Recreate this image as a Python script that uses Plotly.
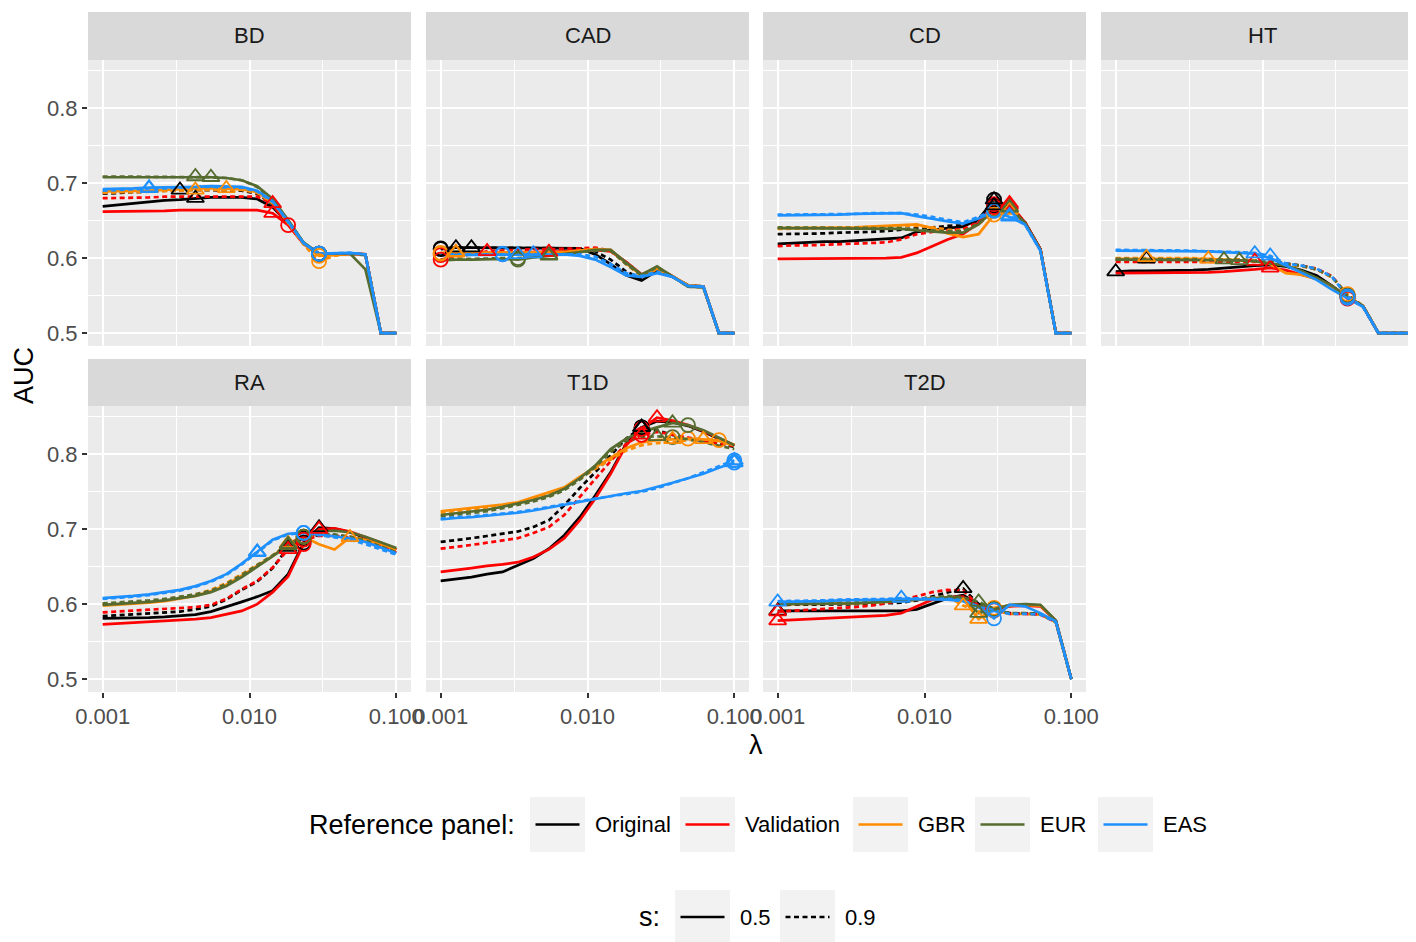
import plotly.graph_objects as go

W, H = 1416, 942

# ---------------- data ----------------
LAMBDA = [0.001, 0.00127, 0.00162, 0.00207, 0.00264, 0.00336, 0.00428, 0.00546,
          0.00695, 0.00886, 0.01129, 0.01438, 0.01833, 0.02336, 0.02976, 0.03793,
          0.04833, 0.06158, 0.07848, 0.1]
X_TICKS = [0.001, 0.01, 0.1]
X_TICK_LABELS = ["0.001", "0.010", "0.100"]
X_MINOR = [0.00316, 0.0316]
Y_TICKS = [0.5, 0.6, 0.7, 0.8]
Y_TICK_LABELS = ["0.5", "0.6", "0.7", "0.8"]
Y_MINOR = [0.55, 0.65, 0.75, 0.85]

DISEASES = ["BD", "CAD", "CD", "HT", "RA", "T1D", "T2D"]
REF_PANELS = ["Original", "Validation", "GBR", "EUR", "EAS"]
REF_COLORS = ["#000000", "#FF0000", "#FF8C00", "#556B2F", "#1E90FF"]
S_LEVELS = ["0.5", "0.9"]

# series order: ORIG_05, ORIG_09, VAL_05, VAL_09, GBR_05, GBR_09, EUR_05, EUR_09, EAS_05, EAS_09
BD_ORIG_05 = [0.669, 0.671, 0.673, 0.675, 0.677, 0.678, 0.680, 0.681, 0.681, 0.681, 0.679, 0.668, 0.646, 0.620, 0.606, 0.605, 0.606, 0.605, 0.500, 0.500]
BD_ORIG_09 = [0.686, 0.687, 0.688, 0.689, 0.690, 0.691, 0.691, 0.691, 0.691, 0.690, 0.686, 0.672, 0.647, 0.620, 0.606, 0.605, 0.606, 0.605, 0.500, 0.500]
BD_VAL_05 = [0.662, 0.662, 0.662, 0.663, 0.663, 0.664, 0.664, 0.665, 0.665, 0.665, 0.664, 0.660, 0.644, 0.619, 0.605, 0.605, 0.606, 0.605, 0.500, 0.500]
BD_VAL_09 = [0.680, 0.680, 0.681, 0.681, 0.682, 0.682, 0.683, 0.683, 0.683, 0.683, 0.682, 0.673, 0.646, 0.619, 0.606, 0.605, 0.606, 0.605, 0.500, 0.500]
BD_GBR_05 = [0.689, 0.689, 0.690, 0.690, 0.691, 0.692, 0.693, 0.693, 0.693, 0.692, 0.688, 0.674, 0.648, 0.619, 0.603, 0.604, 0.606, 0.605, 0.500, 0.500]
BD_GBR_09 = [0.687, 0.688, 0.688, 0.689, 0.690, 0.690, 0.691, 0.691, 0.691, 0.691, 0.687, 0.673, 0.647, 0.618, 0.596, 0.603, 0.606, 0.605, 0.500, 0.500]
BD_EUR_05 = [0.708, 0.708, 0.708, 0.709, 0.709, 0.709, 0.709, 0.708, 0.707, 0.704, 0.696, 0.679, 0.651, 0.621, 0.606, 0.606, 0.606, 0.585, 0.500, 0.500]
BD_EUR_09 = [0.709, 0.709, 0.709, 0.709, 0.709, 0.709, 0.709, 0.708, 0.707, 0.704, 0.695, 0.678, 0.650, 0.620, 0.606, 0.606, 0.606, 0.604, 0.500, 0.500]
BD_EAS_05 = [0.692, 0.692, 0.693, 0.694, 0.694, 0.695, 0.695, 0.696, 0.696, 0.695, 0.690, 0.676, 0.649, 0.620, 0.606, 0.606, 0.607, 0.605, 0.500, 0.500]
BD_EAS_09 = [0.690, 0.691, 0.692, 0.693, 0.693, 0.694, 0.695, 0.695, 0.695, 0.694, 0.689, 0.675, 0.648, 0.620, 0.606, 0.606, 0.607, 0.605, 0.500, 0.500]
BD_TRI = [6, 5, 11, 11, 8, 6, 6, 7, 3, 3]
BD_CIRC = [14, 14, 12, 14, 14, 14, 14, 14, 14, 14]

CAD_ORIG_05 = [0.613, 0.614, 0.614, 0.614, 0.614, 0.614, 0.614, 0.614, 0.614, 0.613, 0.605, 0.592, 0.577, 0.570, 0.583, 0.575, 0.564, 0.562, 0.500, 0.500]
CAD_ORIG_09 = [0.612, 0.614, 0.614, 0.614, 0.614, 0.614, 0.614, 0.614, 0.614, 0.613, 0.609, 0.598, 0.582, 0.573, 0.584, 0.575, 0.564, 0.562, 0.500, 0.500]
CAD_VAL_05 = [0.604, 0.605, 0.606, 0.607, 0.607, 0.608, 0.608, 0.608, 0.609, 0.610, 0.611, 0.609, 0.595, 0.578, 0.587, 0.576, 0.563, 0.562, 0.500, 0.500]
CAD_VAL_09 = [0.598, 0.602, 0.605, 0.609, 0.610, 0.611, 0.612, 0.612, 0.612, 0.613, 0.614, 0.610, 0.594, 0.578, 0.587, 0.576, 0.563, 0.562, 0.500, 0.500]
CAD_GBR_05 = [0.607, 0.608, 0.607, 0.607, 0.607, 0.607, 0.607, 0.607, 0.608, 0.610, 0.612, 0.611, 0.593, 0.577, 0.586, 0.576, 0.564, 0.562, 0.500, 0.500]
CAD_GBR_09 = [0.606, 0.607, 0.607, 0.607, 0.607, 0.607, 0.607, 0.607, 0.608, 0.610, 0.612, 0.610, 0.592, 0.576, 0.585, 0.575, 0.564, 0.562, 0.500, 0.500]
CAD_EUR_05 = [0.597, 0.598, 0.598, 0.599, 0.599, 0.598, 0.601, 0.603, 0.605, 0.608, 0.611, 0.611, 0.594, 0.578, 0.589, 0.575, 0.562, 0.561, 0.500, 0.500]
CAD_EUR_09 = [0.598, 0.599, 0.599, 0.600, 0.600, 0.600, 0.601, 0.604, 0.605, 0.608, 0.610, 0.610, 0.592, 0.577, 0.588, 0.575, 0.562, 0.561, 0.500, 0.500]
CAD_EAS_05 = [0.604, 0.604, 0.604, 0.605, 0.605, 0.605, 0.605, 0.605, 0.605, 0.603, 0.598, 0.588, 0.577, 0.575, 0.580, 0.575, 0.563, 0.562, 0.500, 0.500]
CAD_EAS_09 = [0.605, 0.605, 0.605, 0.606, 0.606, 0.606, 0.606, 0.606, 0.606, 0.605, 0.602, 0.592, 0.580, 0.576, 0.582, 0.575, 0.563, 0.562, 0.500, 0.500]
CAD_TRI = [2, 1, 7, 3, 1, 1, 7, 7, 5, 6]
CAD_CIRC = [0, 0, 0, 0, 0, 0, 5, 5, 4, 4]

CD_ORIG_05 = [0.619, 0.620, 0.621, 0.622, 0.622, 0.623, 0.624, 0.625, 0.627, 0.635, 0.638, 0.640, 0.642, 0.652, 0.678, 0.664, 0.648, 0.612, 0.500, 0.500]
CD_ORIG_09 = [0.632, 0.632, 0.633, 0.633, 0.634, 0.634, 0.635, 0.636, 0.638, 0.640, 0.641, 0.643, 0.644, 0.650, 0.670, 0.662, 0.647, 0.612, 0.500, 0.500]
CD_VAL_05 = [0.599, 0.599, 0.599, 0.599, 0.599, 0.599, 0.600, 0.600, 0.601, 0.607, 0.616, 0.625, 0.632, 0.647, 0.672, 0.673, 0.648, 0.612, 0.500, 0.500]
CD_VAL_09 = [0.616, 0.617, 0.617, 0.618, 0.618, 0.619, 0.620, 0.621, 0.625, 0.632, 0.635, 0.637, 0.639, 0.648, 0.668, 0.671, 0.648, 0.612, 0.500, 0.500]
CD_GBR_05 = [0.640, 0.640, 0.640, 0.640, 0.641, 0.641, 0.642, 0.643, 0.644, 0.645, 0.640, 0.633, 0.628, 0.632, 0.658, 0.665, 0.646, 0.611, 0.500, 0.500]
CD_GBR_09 = [0.639, 0.639, 0.640, 0.640, 0.640, 0.641, 0.641, 0.642, 0.643, 0.643, 0.641, 0.638, 0.636, 0.645, 0.663, 0.664, 0.646, 0.611, 0.500, 0.500]
CD_EUR_05 = [0.640, 0.640, 0.640, 0.640, 0.640, 0.640, 0.640, 0.640, 0.639, 0.637, 0.635, 0.634, 0.634, 0.645, 0.665, 0.668, 0.647, 0.611, 0.500, 0.500]
CD_EUR_09 = [0.641, 0.641, 0.641, 0.641, 0.641, 0.641, 0.641, 0.641, 0.640, 0.638, 0.637, 0.636, 0.636, 0.646, 0.664, 0.667, 0.647, 0.611, 0.500, 0.500]
CD_EAS_05 = [0.657, 0.657, 0.658, 0.658, 0.658, 0.659, 0.659, 0.660, 0.660, 0.656, 0.652, 0.649, 0.646, 0.653, 0.663, 0.655, 0.645, 0.610, 0.500, 0.500]
CD_EAS_09 = [0.658, 0.658, 0.658, 0.659, 0.659, 0.659, 0.660, 0.660, 0.660, 0.658, 0.655, 0.651, 0.648, 0.655, 0.664, 0.657, 0.645, 0.610, 0.500, 0.500]
CD_TRI = [14, 14, 15, 15, 15, 15, 15, 15, 15, 15]
CD_CIRC = [14, 14, 14, 14, 14, 14, 14, 14, 14, 14]

HT_ORIG_05 = [0.582, 0.583, 0.583, 0.583, 0.584, 0.584, 0.585, 0.587, 0.588, 0.590, 0.591, 0.589, 0.584, 0.577, 0.563, 0.548, 0.536, 0.500, 0.500, 0.500]
HT_ORIG_09 = [0.598, 0.599, 0.599, 0.599, 0.599, 0.599, 0.598, 0.598, 0.598, 0.597, 0.596, 0.593, 0.590, 0.585, 0.575, 0.551, 0.536, 0.500, 0.500, 0.500]
HT_VAL_05 = [0.580, 0.580, 0.580, 0.580, 0.580, 0.581, 0.581, 0.582, 0.583, 0.585, 0.587, 0.584, 0.578, 0.573, 0.563, 0.546, 0.536, 0.500, 0.500, 0.500]
HT_VAL_09 = [0.595, 0.595, 0.595, 0.596, 0.596, 0.596, 0.596, 0.596, 0.596, 0.596, 0.595, 0.592, 0.590, 0.586, 0.576, 0.549, 0.536, 0.500, 0.500, 0.500]
HT_GBR_05 = [0.599, 0.599, 0.600, 0.600, 0.600, 0.599, 0.599, 0.598, 0.597, 0.596, 0.592, 0.580, 0.578, 0.572, 0.562, 0.549, 0.536, 0.500, 0.500, 0.500]
HT_GBR_09 = [0.600, 0.600, 0.601, 0.601, 0.601, 0.600, 0.599, 0.599, 0.598, 0.597, 0.595, 0.591, 0.589, 0.585, 0.574, 0.552, 0.536, 0.500, 0.500, 0.500]
HT_EUR_05 = [0.598, 0.598, 0.598, 0.598, 0.598, 0.598, 0.598, 0.598, 0.597, 0.596, 0.593, 0.590, 0.583, 0.574, 0.563, 0.548, 0.536, 0.500, 0.500, 0.500]
HT_EUR_09 = [0.599, 0.599, 0.599, 0.599, 0.599, 0.599, 0.598, 0.598, 0.597, 0.596, 0.595, 0.592, 0.590, 0.585, 0.575, 0.550, 0.536, 0.500, 0.500, 0.500]
HT_EAS_05 = [0.610, 0.610, 0.610, 0.610, 0.609, 0.609, 0.609, 0.608, 0.607, 0.606, 0.600, 0.590, 0.581, 0.571, 0.558, 0.547, 0.535, 0.500, 0.500, 0.500]
HT_EAS_09 = [0.611, 0.611, 0.611, 0.610, 0.610, 0.610, 0.609, 0.609, 0.608, 0.607, 0.603, 0.593, 0.590, 0.586, 0.575, 0.549, 0.535, 0.500, 0.500, 0.500]
HT_TRI = [0, 2, 10, 9, 6, 2, 7, 8, 9, 10]
HT_CIRC = [15, 15, 15, 15, 15, 15, 15, 15, 15, 15]

RA_ORIG_05 = [0.581, 0.581, 0.582, 0.582, 0.583, 0.584, 0.586, 0.590, 0.596, 0.603, 0.610, 0.618, 0.640, 0.682, 0.702, 0.701, 0.696, 0.689, 0.681, 0.673]
RA_ORIG_09 = [0.584, 0.585, 0.586, 0.587, 0.588, 0.590, 0.593, 0.597, 0.606, 0.619, 0.630, 0.648, 0.676, 0.688, 0.692, 0.692, 0.690, 0.686, 0.678, 0.670]
RA_VAL_05 = [0.573, 0.574, 0.575, 0.576, 0.577, 0.578, 0.580, 0.582, 0.586, 0.591, 0.600, 0.616, 0.637, 0.680, 0.700, 0.701, 0.697, 0.690, 0.682, 0.673]
RA_VAL_09 = [0.589, 0.590, 0.591, 0.592, 0.593, 0.594, 0.596, 0.599, 0.607, 0.620, 0.631, 0.649, 0.673, 0.686, 0.691, 0.691, 0.689, 0.685, 0.677, 0.669]
RA_GBR_05 = [0.598, 0.599, 0.600, 0.602, 0.604, 0.607, 0.611, 0.617, 0.626, 0.638, 0.651, 0.664, 0.680, 0.690, 0.680, 0.673, 0.689, 0.686, 0.680, 0.673]
RA_GBR_09 = [0.600, 0.601, 0.602, 0.604, 0.606, 0.609, 0.613, 0.619, 0.628, 0.640, 0.652, 0.665, 0.681, 0.690, 0.693, 0.692, 0.690, 0.686, 0.679, 0.671]
RA_EUR_05 = [0.599, 0.600, 0.601, 0.603, 0.605, 0.608, 0.611, 0.616, 0.624, 0.636, 0.650, 0.663, 0.678, 0.690, 0.697, 0.698, 0.696, 0.690, 0.682, 0.675]
RA_EUR_09 = [0.601, 0.602, 0.603, 0.605, 0.607, 0.610, 0.613, 0.618, 0.627, 0.639, 0.652, 0.665, 0.680, 0.690, 0.694, 0.693, 0.690, 0.685, 0.677, 0.669]
RA_EAS_05 = [0.608, 0.609, 0.611, 0.613, 0.616, 0.619, 0.624, 0.631, 0.640, 0.654, 0.670, 0.686, 0.694, 0.695, 0.693, 0.691, 0.688, 0.683, 0.676, 0.668]
RA_EAS_09 = [0.607, 0.608, 0.610, 0.612, 0.615, 0.618, 0.623, 0.630, 0.639, 0.653, 0.669, 0.685, 0.693, 0.695, 0.692, 0.689, 0.686, 0.680, 0.673, 0.666]
RA_TRI = [14, 12, 14, 12, 16, 12, 12, 12, 10, 10]
RA_CIRC = [13, 13, 13, 13, 13, 13, 13, 13, 13, 13]

T1D_ORIG_05 = [0.631, 0.633, 0.636, 0.640, 0.643, 0.652, 0.661, 0.674, 0.692, 0.716, 0.745, 0.776, 0.814, 0.836, 0.844, 0.843, 0.838, 0.830, 0.820, 0.811]
T1D_ORIG_09 = [0.683, 0.685, 0.688, 0.691, 0.694, 0.697, 0.703, 0.712, 0.732, 0.755, 0.776, 0.799, 0.821, 0.836, 0.832, 0.826, 0.821, 0.818, 0.814, 0.810]
T1D_VAL_05 = [0.643, 0.645, 0.648, 0.651, 0.653, 0.656, 0.663, 0.673, 0.688, 0.712, 0.741, 0.774, 0.812, 0.834, 0.849, 0.845, 0.839, 0.831, 0.821, 0.812]
T1D_VAL_09 = [0.674, 0.676, 0.679, 0.682, 0.685, 0.688, 0.695, 0.703, 0.719, 0.743, 0.768, 0.791, 0.814, 0.826, 0.830, 0.826, 0.822, 0.818, 0.815, 0.811]
T1D_GBR_05 = [0.724, 0.726, 0.728, 0.730, 0.733, 0.736, 0.743, 0.750, 0.756, 0.770, 0.783, 0.796, 0.808, 0.816, 0.819, 0.820, 0.821, 0.820, 0.818, 0.812]
T1D_GBR_09 = [0.722, 0.724, 0.726, 0.729, 0.732, 0.735, 0.741, 0.748, 0.755, 0.768, 0.781, 0.793, 0.805, 0.812, 0.815, 0.816, 0.819, 0.820, 0.819, 0.813]
T1D_EUR_05 = [0.719, 0.721, 0.723, 0.726, 0.730, 0.734, 0.739, 0.745, 0.754, 0.768, 0.785, 0.807, 0.821, 0.830, 0.836, 0.842, 0.839, 0.832, 0.822, 0.812]
T1D_EUR_09 = [0.717, 0.719, 0.721, 0.724, 0.728, 0.732, 0.737, 0.743, 0.752, 0.766, 0.783, 0.803, 0.818, 0.823, 0.824, 0.823, 0.820, 0.816, 0.811, 0.807]
T1D_EAS_05 = [0.713, 0.715, 0.716, 0.718, 0.720, 0.722, 0.725, 0.729, 0.733, 0.737, 0.741, 0.744, 0.748, 0.751, 0.756, 0.762, 0.768, 0.774, 0.782, 0.789]
T1D_EAS_09 = [0.714, 0.716, 0.717, 0.719, 0.721, 0.723, 0.726, 0.730, 0.734, 0.738, 0.741, 0.744, 0.747, 0.750, 0.755, 0.761, 0.768, 0.776, 0.784, 0.792]
T1D_TRI = [13, 13, 14, 13, 15, 17, 15, 14, 19, 19]
T1D_CIRC = [13, 13, 13, 13, 16, 18, 16, 15, 19, 19]

T2D_ORIG_05 = [0.591, 0.591, 0.591, 0.591, 0.591, 0.591, 0.591, 0.591, 0.591, 0.593, 0.601, 0.608, 0.612, 0.600, 0.594, 0.598, 0.599, 0.598, 0.578, 0.500]
T2D_ORIG_09 = [0.599, 0.599, 0.599, 0.599, 0.600, 0.600, 0.600, 0.601, 0.602, 0.605, 0.610, 0.615, 0.621, 0.600, 0.593, 0.588, 0.588, 0.587, 0.576, 0.500]
T2D_VAL_05 = [0.578, 0.579, 0.580, 0.581, 0.582, 0.583, 0.584, 0.585, 0.588, 0.597, 0.606, 0.609, 0.610, 0.596, 0.592, 0.597, 0.598, 0.597, 0.578, 0.500]
T2D_VAL_09 = [0.590, 0.591, 0.592, 0.593, 0.594, 0.596, 0.598, 0.601, 0.605, 0.611, 0.616, 0.619, 0.618, 0.598, 0.592, 0.587, 0.587, 0.586, 0.576, 0.500]
T2D_GBR_05 = [0.600, 0.600, 0.600, 0.601, 0.601, 0.601, 0.602, 0.603, 0.604, 0.606, 0.608, 0.609, 0.607, 0.580, 0.595, 0.598, 0.599, 0.598, 0.578, 0.500]
T2D_GBR_09 = [0.601, 0.601, 0.601, 0.602, 0.602, 0.602, 0.603, 0.604, 0.605, 0.607, 0.609, 0.610, 0.598, 0.590, 0.592, 0.587, 0.587, 0.586, 0.576, 0.500]
T2D_EUR_05 = [0.600, 0.600, 0.600, 0.601, 0.601, 0.601, 0.602, 0.603, 0.604, 0.606, 0.608, 0.609, 0.608, 0.588, 0.593, 0.599, 0.600, 0.599, 0.578, 0.500]
T2D_EUR_09 = [0.601, 0.601, 0.601, 0.602, 0.602, 0.602, 0.603, 0.604, 0.605, 0.607, 0.609, 0.611, 0.609, 0.603, 0.593, 0.588, 0.588, 0.587, 0.576, 0.500]
T2D_EAS_05 = [0.603, 0.603, 0.604, 0.604, 0.605, 0.605, 0.606, 0.606, 0.607, 0.607, 0.607, 0.606, 0.604, 0.596, 0.581, 0.599, 0.597, 0.588, 0.577, 0.500]
T2D_EAS_09 = [0.604, 0.604, 0.605, 0.605, 0.606, 0.606, 0.607, 0.607, 0.608, 0.608, 0.608, 0.607, 0.605, 0.597, 0.592, 0.587, 0.587, 0.586, 0.576, 0.500]
T2D_TRI = [0, 12, 0, 0, 13, 12, 13, 13, 0, 8]
T2D_CIRC = [14, 14, 14, 14, 14, 14, 14, 14, 14, 14]

SERIES = {
    "BD": [BD_ORIG_05, BD_ORIG_09, BD_VAL_05, BD_VAL_09, BD_GBR_05, BD_GBR_09, BD_EUR_05, BD_EUR_09, BD_EAS_05, BD_EAS_09],
    "CAD": [CAD_ORIG_05, CAD_ORIG_09, CAD_VAL_05, CAD_VAL_09, CAD_GBR_05, CAD_GBR_09, CAD_EUR_05, CAD_EUR_09, CAD_EAS_05, CAD_EAS_09],
    "CD": [CD_ORIG_05, CD_ORIG_09, CD_VAL_05, CD_VAL_09, CD_GBR_05, CD_GBR_09, CD_EUR_05, CD_EUR_09, CD_EAS_05, CD_EAS_09],
    "HT": [HT_ORIG_05, HT_ORIG_09, HT_VAL_05, HT_VAL_09, HT_GBR_05, HT_GBR_09, HT_EUR_05, HT_EUR_09, HT_EAS_05, HT_EAS_09],
    "RA": [RA_ORIG_05, RA_ORIG_09, RA_VAL_05, RA_VAL_09, RA_GBR_05, RA_GBR_09, RA_EUR_05, RA_EUR_09, RA_EAS_05, RA_EAS_09],
    "T1D": [T1D_ORIG_05, T1D_ORIG_09, T1D_VAL_05, T1D_VAL_09, T1D_GBR_05, T1D_GBR_09, T1D_EUR_05, T1D_EUR_09, T1D_EAS_05, T1D_EAS_09],
    "T2D": [T2D_ORIG_05, T2D_ORIG_09, T2D_VAL_05, T2D_VAL_09, T2D_GBR_05, T2D_GBR_09, T2D_EUR_05, T2D_EUR_09, T2D_EAS_05, T2D_EAS_09],
}
TRI = {"BD": BD_TRI, "CAD": CAD_TRI, "CD": CD_TRI, "HT": HT_TRI, "RA": RA_TRI, "T1D": T1D_TRI, "T2D": T2D_TRI}
CIRC = {"BD": BD_CIRC, "CAD": CAD_CIRC, "CD": CD_CIRC, "HT": HT_CIRC, "RA": RA_CIRC, "T1D": T1D_CIRC, "T2D": T2D_CIRC}

# ---------------- style / layout ----------------
FONT = "Liberation Sans, Arial, Helvetica, sans-serif"
PANEL_BG = "#EBEBEB"
STRIP_BG = "#D9D9D9"
KEY_BG = "#F2F2F2"
DASH_09 = "5px,3.5px"
LINE_W = 2.7
TXT = 22
TITLE_TXT = 27

# target screen-pixel geometry (page body has an 8px margin)
PAGE_OFF = 8
COL_X = [(88, 411), (426, 749), (763, 1086), (1101, 1424)]
ROW_PLOT_Y = [(60, 346), (406, 692)]
ROW_STRIP_Y = [(12, 60), (359, 406)]
X_LOG_MIN = -3.1
DECADE_PX = 323 / 2.2
Y_RANGE = [0.4827, 0.8645]


def px(x):
    return min(1.0, (x - PAGE_OFF) / W)


def py(y):
    return 1 - (y - PAGE_OFF) / H


fig = go.Figure()
layout = {}
shapes = []
annotations = []

for i, dis in enumerate(DISEASES):
    r, c = divmod(i, 4)
    ax = "" if i == 0 else str(i + 1)
    xa, ya = "x" + ax, "y" + ax
    x0, x1 = COL_X[c]
    y0, y1 = ROW_PLOT_Y[r]
    x_hi = X_LOG_MIN + (x1 - x0) / DECADE_PX
    left = (c == 0)

    layout["xaxis" + ax] = dict(
        domain=[px(x0), px(x1)], anchor=ya, type="log",
        range=[X_LOG_MIN, x_hi], showline=False, zeroline=False,
        tickmode="array", tickvals=X_TICKS, ticktext=X_TICK_LABELS,
        showgrid=True, gridcolor="white", gridwidth=2,
        minor=dict(tickmode="array", tickvals=X_MINOR, showgrid=True, gridcolor="white", gridwidth=1),
        showticklabels=(r == 1), ticks="outside" if r == 1 else "",
        ticklen=5, tickwidth=2, tickcolor="#333333",
        tickfont=dict(family=FONT, size=TXT, color="#4D4D4D"),
        automargin=False, fixedrange=True,
    )
    layout["yaxis" + ax] = dict(
        domain=[py(y1), py(y0)], anchor=xa, range=Y_RANGE,
        showline=False, zeroline=False,
        tickmode="array", tickvals=Y_TICKS, ticktext=Y_TICK_LABELS,
        showgrid=True, gridcolor="white", gridwidth=2,
        minor=dict(tickmode="array", tickvals=Y_MINOR, showgrid=True, gridcolor="white", gridwidth=1),
        showticklabels=left, ticks="outside" if left else "",
        ticklen=5, tickwidth=2, tickcolor="#333333",
        tickfont=dict(family=FONT, size=TXT, color="#4D4D4D"),
        automargin=False, fixedrange=True,
    )

    # strip
    sy0, sy1 = ROW_STRIP_Y[r]
    shapes.append(dict(type="rect", xref="paper", yref="paper",
                       x0=px(x0), x1=px(x1), y0=py(sy1), y1=py(sy0),
                       fillcolor=STRIP_BG, line=dict(width=0), layer="below"))
    annotations.append(dict(text=dis, xref="paper", yref="paper",
                            x=px((x0 + x1) / 2), y=py((sy0 + sy1) / 2),
                            showarrow=False, xanchor="center", yanchor="middle",
                            font=dict(family=FONT, size=TXT, color="#1A1A1A")))

    series = SERIES[dis]
    # lines
    for j, vals in enumerate(series):
        ref_i, s_i = divmod(j, 2)
        fig.add_trace(go.Scatter(
            x=LAMBDA, y=vals, xaxis=xa, yaxis=ya, mode="lines",
            line=dict(color=REF_COLORS[ref_i], width=LINE_W,
                      dash="solid" if s_i == 0 else DASH_09),
            showlegend=False, hoverinfo="skip"))
    # markers
    for sym, idx_map, size in (("circle-open", CIRC, 14), ("triangle-up-open", TRI, 15)):
        mx, my, mc = [], [], []
        for j, vals in enumerate(series):
            k = idx_map[dis][j]
            mx.append(LAMBDA[k])
            my.append(vals[k])
            mc.append(REF_COLORS[j // 2])
        fig.add_trace(go.Scatter(
            x=mx, y=my, xaxis=xa, yaxis=ya, mode="markers",
            marker=dict(symbol=sym, size=size, color=mc, line=dict(width=1.8)),
            showlegend=False, hoverinfo="skip"))

# axis titles
annotations.append(dict(text="AUC", xref="paper", yref="paper", x=px(24), y=py(376),
                        showarrow=False, textangle=-90, xanchor="center", yanchor="middle",
                        font=dict(family=FONT, size=TITLE_TXT, color="#000000")))
annotations.append(dict(text="λ", xref="paper", yref="paper", x=px(756), y=py(745),
                        showarrow=False, xanchor="center", yanchor="middle",
                        font=dict(family=FONT, size=TITLE_TXT, color="#000000")))

# legend (drawn manually to mimic ggplot keys)
LEG1_Y = (797, 852)
LEG1_BOX_X = [530, 680, 853, 975, 1098]
LEG2_Y = (890, 945)
LEG2_BOX_X = [675, 780]
KEY_W = 55

annotations.append(dict(text="Reference panel:", xref="paper", yref="paper",
                        x=px(307), y=py(sum(LEG1_Y) / 2), showarrow=False,
                        xanchor="left", yanchor="middle",
                        font=dict(family=FONT, size=TITLE_TXT, color="#000000")))
for bx, name, col in zip(LEG1_BOX_X, REF_PANELS, REF_COLORS):
    shapes.append(dict(type="rect", xref="paper", yref="paper",
                       x0=px(bx), x1=px(bx + KEY_W), y0=py(LEG1_Y[1]), y1=py(LEG1_Y[0]),
                       fillcolor=KEY_BG, line=dict(width=0)))
    yc = py(sum(LEG1_Y) / 2)
    shapes.append(dict(type="line", xref="paper", yref="paper",
                       x0=px(bx + 5.5), x1=px(bx + KEY_W - 5.5), y0=yc, y1=yc,
                       line=dict(color=col, width=LINE_W)))
    annotations.append(dict(text=name, xref="paper", yref="paper",
                            x=px(bx + KEY_W + 8), y=yc, showarrow=False,
                            xanchor="left", yanchor="middle",
                            font=dict(family=FONT, size=TXT, color="#000000")))

annotations.append(dict(text="s:", xref="paper", yref="paper",
                        x=px(637), y=py(917), showarrow=False,
                        xanchor="left", yanchor="middle",
                        font=dict(family=FONT, size=TITLE_TXT, color="#000000")))
for bx, lab, s_i in zip(LEG2_BOX_X, S_LEVELS, [0, 1]):
    shapes.append(dict(type="rect", xref="paper", yref="paper",
                       x0=px(bx), x1=px(bx + KEY_W), y0=py(LEG2_Y[1]), y1=py(LEG2_Y[0]),
                       fillcolor=KEY_BG, line=dict(width=0)))
    yc = py(917)
    shapes.append(dict(type="line", xref="paper", yref="paper",
                       x0=px(bx + 5.5), x1=px(bx + KEY_W - 5.5), y0=yc, y1=yc,
                       line=dict(color="#000000", width=LINE_W,
                                 dash="solid" if s_i == 0 else DASH_09)))
    annotations.append(dict(text=lab, xref="paper", yref="paper",
                            x=px(bx + KEY_W + 8), y=yc, showarrow=False,
                            xanchor="left", yanchor="middle",
                            font=dict(family=FONT, size=TXT, color="#000000")))

fig.update_layout(
    width=W, height=H,
    margin=dict(l=0, r=0, t=0, b=0, pad=0),
    paper_bgcolor="white", plot_bgcolor=PANEL_BG,
    showlegend=False,
    shapes=shapes, annotations=annotations,
    font=dict(family=FONT),
    **layout,
)

fig.write_html("out.html")
